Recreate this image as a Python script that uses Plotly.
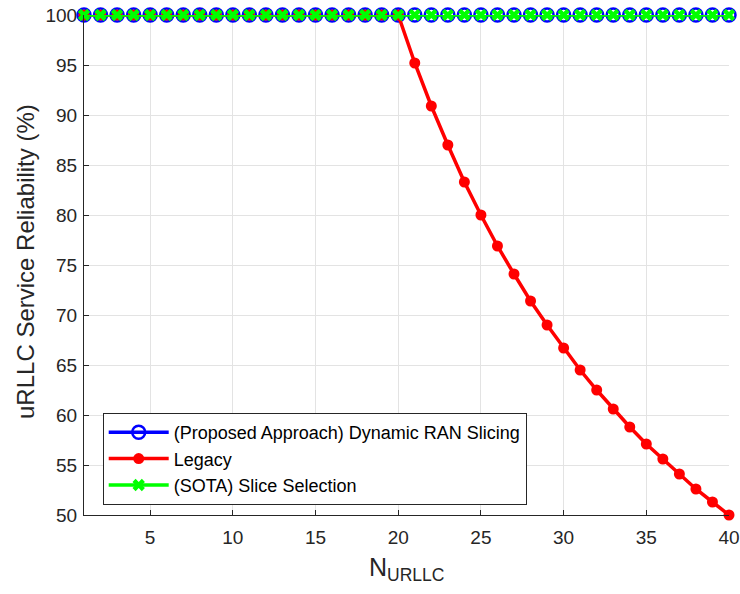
import plotly.graph_objects as go

n_urllc = list(range(1, 41))
proposed = [100.0] * 40
legacy = [100.0] * 20 + [95.2, 90.9, 87.0, 83.3, 80.0, 76.9, 74.1, 71.4, 69.0, 66.7,
                         64.5, 62.5, 60.6, 58.8, 57.1, 55.6, 54.1, 52.6, 51.3, 50.0]
sota = [100.0] * 40
x_ticks = [5, 10, 15, 20, 25, 30, 35, 40]
y_ticks = [50, 55, 60, 65, 70, 75, 80, 85, 90, 95, 100]

fig = go.Figure()
fig.add_trace(go.Scatter(
    x=n_urllc, y=proposed, mode="lines+markers",
    name="(Proposed Approach) Dynamic RAN Slicing",
    line=dict(color="#0000ff", width=3.5),
    marker=dict(symbol="circle-open", size=13, color="#0000ff", line=dict(width=2.5)),
    cliponaxis=False))
fig.add_trace(go.Scatter(
    x=n_urllc, y=legacy, mode="lines+markers", name="Legacy",
    line=dict(color="#ff0000", width=3.5),
    marker=dict(symbol="circle", size=11, color="#ff0000"),
    cliponaxis=False))
fig.add_trace(go.Scatter(
    x=n_urllc, y=sota, mode="lines+markers", name="(SOTA) Slice Selection",
    line=dict(color="#00ff00", width=3.5),
    marker=dict(symbol="x", size=11, color="#00ff00", line=dict(width=0)),
    cliponaxis=False))

font_family = "Liberation Sans, Arial, sans-serif"
fig.update_layout(
    width=740, height=594,
    margin=dict(l=84, r=11, t=15, b=79, autoexpand=False),
    plot_bgcolor="white", paper_bgcolor="white",
    font=dict(family=font_family, color="#262626"),
    showlegend=True,
    legend=dict(x=0.029, y=0.204, xanchor="left", yanchor="top",
                bgcolor="white", bordercolor="#262626", borderwidth=1,
                font=dict(size=18, color="#000000"), tracegroupgap=0,
                itemwidth=60),
    xaxis=dict(range=[1, 40], tickvals=x_ticks, ticktext=[str(v) for v in x_ticks],
               showgrid=True, gridcolor="#e3e3e3", gridwidth=1,
               showline=True, linecolor="#262626", linewidth=1,
               ticks="inside", ticklen=5, tickcolor="#262626",
               tickfont=dict(size=19), zeroline=False, automargin=False,
               ticklabelstandoff=5),
    yaxis=dict(range=[50, 100], tickvals=y_ticks, ticktext=[str(v) for v in y_ticks],
               showgrid=True, gridcolor="#e3e3e3", gridwidth=1,
               showline=True, linecolor="#262626", linewidth=1,
               ticks="inside", ticklen=5, tickcolor="#262626",
               tickfont=dict(size=19), zeroline=False, automargin=False,
               ticklabelstandoff=2),
    annotations=[
        dict(text="N<sub>URLLC</sub>", xref="paper", yref="paper",
             x=0.5, y=-0.072, xanchor="center", yanchor="top", showarrow=False,
             font=dict(size=25, color="#262626")),
        dict(text="uRLLC Service Reliability (%)", xref="paper", yref="paper",
             x=-0.0915, y=0.508, xanchor="center", yanchor="middle", showarrow=False,
             textangle=-90, font=dict(size=24, color="#262626")),
    ],
)

fig.write_html("out.html", config={"displayModeBar": False},
               post_script="document.body.style.margin='0px';")
